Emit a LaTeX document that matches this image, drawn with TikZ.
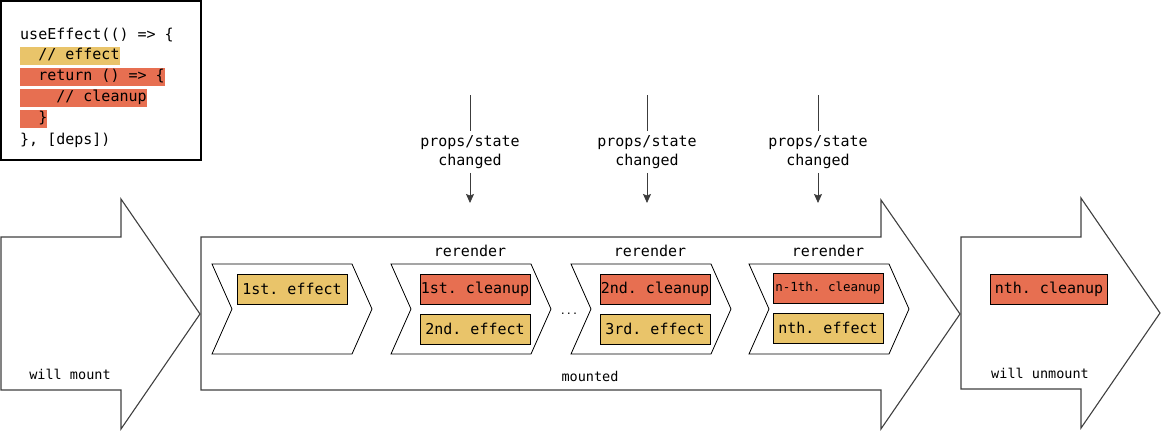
\documentclass[tikz,border=0pt]{standalone}
\usepackage{fontspec}
\setmonofont{DejaVu Sans Mono}
\usepackage{xcolor}
\definecolor{fxyellow}{RGB}{233,196,106}
\definecolor{fxred}{RGB}{231,111,81}
\definecolor{fxgray}{RGB}{60,60,60}
\usepackage{tikz}
\usetikzlibrary{arrows.meta, positioning}

\tikzset{
  codeline/.style={anchor=west, inner xsep=0pt, inner ysep=0pt, minimum height=18pt,
    text height=11pt, text depth=3.5pt, font=\ttfamily\fontsize{15}{18}\selectfont},
  effbox/.style={draw=black, fill=fxyellow, minimum width=110pt, minimum height=30pt,
    inner sep=0pt, font=\ttfamily\fontsize{15}{18}\selectfont},
  clnbox/.style={effbox, fill=fxred},
  stage/.style={draw=black, fill=white, line width=0.8pt},
  phase/.style={draw=black!75, fill=white, line width=1.1pt},
  phaselabel/.style={font=\ttfamily\fontsize{13.5}{16}\selectfont},
  chglabel/.style={align=center, inner sep=4pt, font=\ttfamily\fontsize{15}{19}\selectfont},
  rrlabel/.style={font=\ttfamily\fontsize{15}{18}\selectfont},
  wire/.style={draw=fxgray, line width=0.8pt}
}

\begin{document}
\begin{tikzpicture}[x=1pt, y=-1pt]
  \useasboundingbox (0,0) rectangle (1161,431);

  % hook code
  \draw[line width=1.5pt] (1,1) rectangle (201,160);
  \node[codeline] (l1) at (20,36) {useEffect(() => \{};
  \node[codeline, fill=fxyellow] (l2) at (20,56) {\phantom{xx}// effect};
  \node[codeline, fill=fxred] (l3) at (20,77) {\phantom{xx}return () => \{};
  \node[codeline, fill=fxred] (l4) at (20,98) {\phantom{xxxx}// cleanup};
  \node[codeline, fill=fxred] (l5) at (20,119) {\phantom{xx}\}};
  \node[codeline] (l6) at (20,141) {\}, [deps])};

  % lifecycle phases
  \draw[phase] (1,237) -- (121,237) -- (121,199) -- (200,314) -- (121,429) -- (121,390) -- (1,390) -- cycle;
  \draw[phase] (201,237) -- (881,237) -- (881,200) -- (960,314) -- (881,429) -- (881,390) -- (201,390) -- cycle;
  \draw[phase] (961,237) -- (1081,237) -- (1081,198) -- (1160,313) -- (1081,428) -- (1081,389) -- (961,389) -- cycle;
  \node[phaselabel] (willmount) at (70,374) {will mount};
  \node[phaselabel] (mounted) at (590,376) {mounted};
  \node[phaselabel] (unmount) at (1040,373) {will unmount};

  % renders
  \foreach \x in {212,391,571,749}
    \draw[stage] (\x,264) -- ++(140,0) -- ++(20,45) -- ++(-20,45) -- ++(-140,0) -- ++(20,-45) -- cycle;

  \node[effbox] (eff1) at (292,289) {1st. effect};
  \node[clnbox] (cln1) at (475,289) {1st. cleanup};
  \node[effbox, below=10pt of cln1] (eff2) {2nd. effect};
  \node[clnbox] (cln2) at (655,289) {2nd. cleanup};
  \node[effbox, below=10pt of cln2] (eff3) {3rd. effect};
  \node[clnbox, font=\ttfamily\fontsize{12.5}{15}\selectfont] (clnm) at (828,288) {n-1th. cleanup};
  \node[effbox, below=10pt of clnm] (effn) {nth. effect};
  \node[clnbox, minimum width=117pt] (clnn) at (1049,289) {nth. cleanup};
  \node[anchor=base, font=\ttfamily\fontsize{10}{12}\selectfont] (gap) at (569,314) {...};

  \node[rrlabel] (rr1) at (470,251) {rerender};
  \node[rrlabel] (rr2) at (650,251) {rerender};
  \node[rrlabel] (rr3) at (828,251) {rerender};

  % triggers
  \foreach \i/\x in {1/470,2/647,3/818} {
    \node[chglabel] (chg\i) at (\x,152) {props/state\\changed};
    \coordinate (src\i) at (\x,95);
    \coordinate (dst\i) at (\x,203);
    \draw[wire] (src\i) -- (chg\i);
    \draw[wire, -{Stealth[length=9pt, width=8pt, inset=1.5pt]}] (chg\i) -- (dst\i);
  }
\end{tikzpicture}
\end{document}
